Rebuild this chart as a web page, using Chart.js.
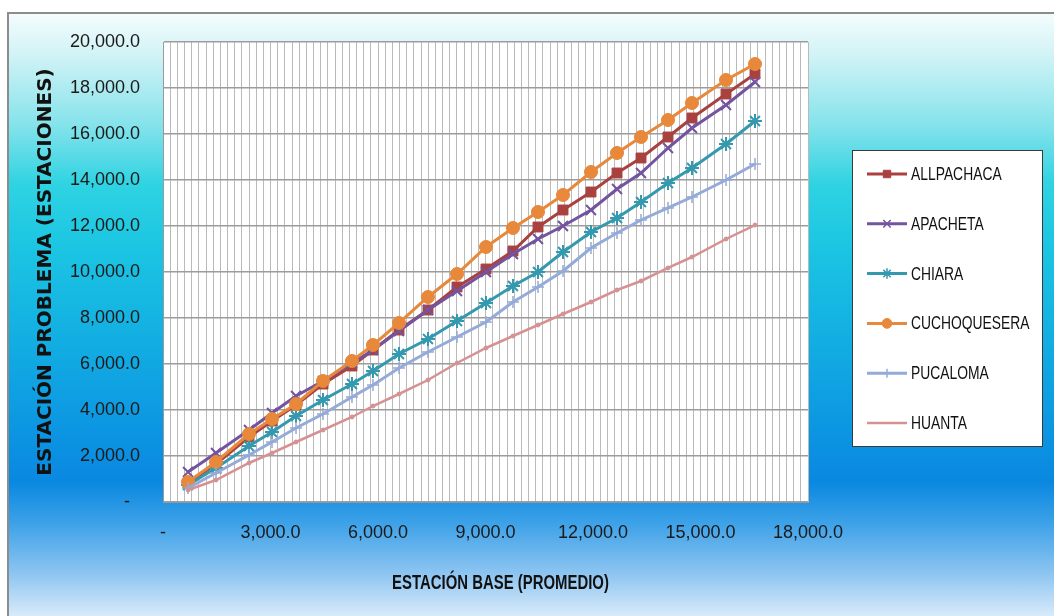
<!DOCTYPE html>
<html>
<head>
<meta charset="utf-8">
<script src="https://cdn.jsdelivr.net/npm/chart.js@4/dist/chart.umd.min.js"></script>
<style>
  html, body { margin: 0; padding: 0; background: #fff; }
  #wrap { position: relative; width: 1054px; height: 616px; overflow: hidden; background: #fff; }
  #frame {
    position: absolute; left: 7px; top: 12px; width: 1060px; height: 620px;
    border-top: 2px solid #8c8c8c; border-left: 2px solid #8c8c8c;
    background: linear-gradient(to bottom,
      #f4fcfd 0px, #d2f3f6 40px, #86e3eb 110px, #2fd3e2 170px, #1cc6e2 230px,
      #12ade2 330px, #0b92e2 430px, #0a88e0 468px, #3ea2e8 510px,
      #8ec5f1 560px, #dcecfa 604px);
  }
  canvas { position: absolute; left: 0; top: 0; }
</style>
</head>
<body>
<div id="wrap">
  <div id="frame"></div>
  <canvas id="c" width="1054" height="616"></canvas>
</div>
<script>
// Double-mass curve: accumulated base-station average (x) vs accumulated station values (y)
const estacionBase = [698, 1479, 2400, 3042, 3712, 4465, 5274, 5860, 6586, 7395, 8205,
  9014, 9767, 10465, 11163, 11944, 12670, 13340, 14093, 14763, 15712, 16521];

const allpachaca = [826, 1652, 2826, 3522, 4217, 5130, 5913, 6609, 7478, 8348, 9348,
  10130, 10913, 11957, 12696, 13478, 14304, 14957, 15870, 16696, 17739, 18609];
const apacheta = [1304, 2130, 3130, 3870, 4609, 5261, 6043, 6609, 7435, 8348, 9174,
  10000, 10783, 11435, 12000, 12696, 13609, 14304, 15391, 16261, 17261, 18261];
const chiara = [739, 1478, 2435, 3043, 3739, 4435, 5130, 5696, 6435, 7087, 7870,
  8652, 9391, 10000, 10870, 11739, 12348, 13043, 13870, 14522, 15565, 16565];
const cuchoquesera = [870, 1739, 2957, 3609, 4261, 5261, 6130, 6826, 7783, 8913, 9913,
  11087, 11913, 12609, 13348, 14348, 15174, 15870, 16609, 17348, 18348, 19043];
const pucaloma = [609, 1261, 2043, 2609, 3217, 3826, 4565, 5087, 5826, 6522, 7174,
  7826, 8696, 9348, 10043, 11043, 11696, 12261, 12783, 13261, 14000, 14696];
const huanta = [522, 957, 1696, 2130, 2609, 3130, 3696, 4174, 4696, 5304, 6043,
  6696, 7217, 7696, 8174, 8696, 9217, 9609, 10174, 10652, 11435, 12043];

const seriesNames = ['ALLPACHACA', 'APACHETA', 'CHIARA', 'CUCHOQUESERA', 'PUCALOMA', 'HUANTA'];
const seriesValues = [allpachaca, apacheta, chiara, cuchoquesera, pucaloma, huanta];

// Axis ranges and tick steps
const xMax = 18000, xLabelStep = 3000, xGridStep = 200;
const yMax = 20000, yStep = 2000;
const xTitle = 'ESTACIÓN BASE (PROMEDIO)';
const yTitle = 'ESTACIÓN PROBLEMA (ESTACIONES)';

const styles = [
  { color: '#a9413e', pointStyle: 'rect',     radius: 7,   lw: 3,   pbw: 1 },
  { color: '#74539f', pointStyle: 'crossRot', radius: 7,   lw: 3,   pbw: 2 },
  { color: '#3499ae', pointStyle: 'star',     radius: 7,   lw: 3,   pbw: 2 },
  { color: '#e8883a', pointStyle: 'circle',   radius: 6.5, lw: 3,   pbw: 1 },
  { color: '#94aad8', pointStyle: 'cross',    radius: 6,   lw: 3,   pbw: 1.5 },
  { color: '#d69292', pointStyle: 'circle',   radius: 2,   lw: 2.5, pbw: 1 }
];

function fmt(v) {
  if (v === 0) return '-';
  return v.toLocaleString('en-US', { minimumFractionDigits: 1, maximumFractionDigits: 1 });
}

const datasets = seriesNames.map((name, i) => ({
  label: name,
  data: seriesValues[i].map((y, k) => ({ x: estacionBase[k], y: y })),
  showLine: true,
  borderColor: styles[i].color,
  backgroundColor: styles[i].color,
  borderWidth: styles[i].lw,
  pointStyle: styles[i].pointStyle,
  pointRadius: styles[i].radius,
  pointBorderWidth: styles[i].pbw,
  pointBorderColor: styles[i].color,
  pointBackgroundColor: styles[i].color,
  tension: 0,
  order: seriesNames.length - i
}));

// Draw condensed text (horizontal squeeze) at a given anchor
function condensedText(ctx, text, x, y, squeeze, align) {
  ctx.save();
  ctx.translate(x, y);
  ctx.scale(squeeze, 1);
  ctx.textAlign = align;
  ctx.fillText(text, 0, 0);
  ctx.restore();
}

const plotBackground = {
  id: 'plotBackground',
  beforeDraw(chart) {
    const { ctx, chartArea: a } = chart;
    ctx.save();
    ctx.fillStyle = '#ffffff';
    ctx.fillRect(a.left, a.top, a.right - a.left, a.bottom - a.top);
    ctx.restore();
  }
};

// X-axis title in a condensed bold face under the plot
const xAxisTitle = {
  id: 'xAxisTitle',
  afterDraw(chart) {
    const { ctx, chartArea: a } = chart;
    ctx.save();
    ctx.fillStyle = '#111111';
    ctx.font = 'bold 21px "Liberation Sans", Arial, sans-serif';
    ctx.textBaseline = 'middle';
    condensedText(ctx, xTitle, (a.left + a.right) / 2 + 15, 583, 0.71, 'center');
    ctx.restore();
  }
};

// Boxed legend on the right of the plot
const boxedLegend = {
  id: 'boxedLegend',
  afterDraw(chart) {
    const ctx = chart.ctx;
    const box = { x: 852.5, y: 150.5, w: 190, h: 296 };
    ctx.save();
    ctx.fillStyle = '#ffffff';
    ctx.fillRect(box.x, box.y, box.w, box.h);
    ctx.strokeStyle = '#3a3a3a';
    ctx.lineWidth = 1;
    ctx.strokeRect(box.x, box.y, box.w, box.h);
    chart.data.datasets.forEach((ds, i) => {
      const cy = 174 + i * 49.8;
      ctx.strokeStyle = ds.borderColor;
      ctx.fillStyle = ds.pointBackgroundColor;
      ctx.lineWidth = ds.borderWidth;
      ctx.beginPath();
      ctx.moveTo(867, cy);
      ctx.lineTo(907, cy);
      ctx.stroke();
      if (ds.pointRadius > 2) {
        ctx.lineWidth = Math.min(ds.pointBorderWidth, 1.5);
        Chart.helpers.drawPoint(ctx, {
          pointStyle: ds.pointStyle,
          radius: ds.pointRadius * 0.75,
          rotation: 0,
          borderWidth: Math.min(ds.pointBorderWidth, 1.5)
        }, 887, cy);
      }
      ctx.fillStyle = '#111111';
      ctx.font = '18px "Liberation Sans", Arial, sans-serif';
      ctx.textBaseline = 'middle';
      condensedText(ctx, ds.label, 911, cy + 1, 0.77, 'left');
    });
    ctx.restore();
  }
};

new Chart(document.getElementById('c'), {
  type: 'scatter',
  data: { datasets },
  plugins: [plotBackground, xAxisTitle, boxedLegend],
  options: {
    responsive: false,
    devicePixelRatio: 1,
    animation: false,
    layout: { padding: { top: 42, right: 246, left: 0, bottom: 0 } },
    plugins: { legend: { display: false }, tooltip: { enabled: false } },
    scales: {
      x: {
        type: 'linear',
        min: 0, max: xMax,
        afterFit(scale) { scale.height = 114; },
        border: { display: true, color: '#9a9a9a', width: 1 },
        grid: { color: '#bababa', lineWidth: 1, drawTicks: false },
        ticks: {
          stepSize: xGridStep,
          autoSkip: false,
          maxRotation: 0,
          padding: 20,
          color: '#1a1a1a',
          font: { family: '"Liberation Sans", Arial, sans-serif', size: 18 },
          callback: (v) => (v % xLabelStep === 0 ? fmt(v) : '')
        },
        title: { display: false }
      },
      y: {
        type: 'linear',
        min: 0, max: yMax,
        afterFit(scale) { scale.width = 163; },
        border: { display: true, color: '#9a9a9a', width: 1 },
        grid: { color: '#9c9c9c', lineWidth: 1.5, drawTicks: false },
        ticks: {
          stepSize: yStep,
          padding: 23,
          color: '#1a1a1a',
          font: { family: '"Liberation Sans", Arial, sans-serif', size: 18 },
          callback: (v) => (v === 0 ? '-  ' : fmt(v))
        },
        title: {
          display: true, text: yTitle, color: '#111',
          font: { family: '"DejaVu Sans", Verdana, sans-serif', size: 20, weight: 'bold' },
          padding: { top: 34, bottom: 0 }
        }
      }
    }
  }
});
</script>
</body>
</html>
